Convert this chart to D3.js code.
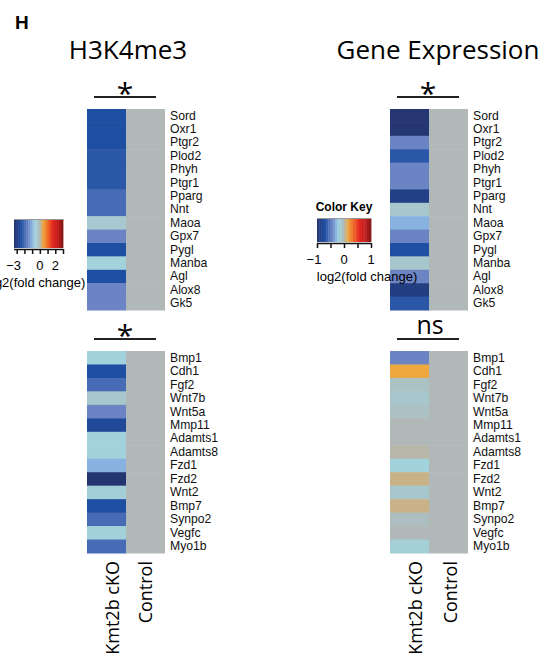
<!DOCTYPE html>
<html><head><meta charset="utf-8">
<script src="https://cdn.jsdelivr.net/npm/d3@7"></script>
<style>body{margin:0;background:#fff;overflow:hidden}</style></head>
<body>
<script>
// ---------- data ----------
const columns = ["Kmt2b cKO", "Control"];
const genesTop = ["Sord","Oxr1","Ptgr2","Plod2","Phyh","Ptgr1","Pparg","Nnt","Maoa","Gpx7","Pygl","Manba","Agl","Alox8","Gk5"];
const genesBottom = ["Bmp1","Cdh1","Fgf2","Wnt7b","Wnt5a","Mmp11","Adamts1","Adamts8","Fzd1","Fzd2","Wnt2","Bmp7","Synpo2","Vegfc","Myo1b"];
// log2 fold change, Kmt2b cKO vs control
const h3Top    = [-2.41,-2.41,-2.41,-2.28,-2.28,-2.28,-1.94,-1.94,-0.40,-1.50,-2.41,-0.60,-2.41,-1.50,-1.50];
const h3Bottom = [-0.60,-2.41,-1.94,-0.33,-1.50,-2.60,-0.60,-0.60,-1.00,-3.30,-0.50,-2.41,-1.94,-0.55,-1.94];
const exprTop    = [-0.98,-0.98,-0.45,-0.68,-0.45,-0.45,-0.88,-0.10,-0.30,-0.45,-0.72,-0.10,-0.45,-0.90,-0.68];
const exprBottom = [-0.45,0.15,-0.06,-0.10,-0.06,0.00,0.00,0.02,-0.18,0.06,-0.10,0.06,-0.04,0.00,-0.15];
const controlValue = 0;
// colour key (normalised stops -1..1)
const keyStops  = [-1,-0.72,-0.45,-0.3,-0.18,0,0.15,0.35,0.55,0.8,1];
const keyColors = ["#25346f","#1f4fa2","#6b84c4","#88b3e0","#a2d3dd","#b0b8b8","#efa73f","#f06a28","#e42a20","#c01e1e","#7f1616"];
const h3Range = [-3.35, 3];
const exprRange = [-1, 1];
const h3KeyTicks = [-3,-2,-1,0,1,2,3];
const h3KeyLabels = ["−3","0","2"];
const h3KeyLabelVals = [-3,0,2];
const exprKeyTicks = [-1,-0.5,0,0.5,1];
const exprKeyLabels = ["−1","0","1"];
const exprKeyLabelVals = [-1,0,1];
const sigTop = ["*","*"], sigBottom = ["*","ns"];

// ---------- drawing ----------
const W = 551, H = 657;
const svg = d3.select("body").append("svg").attr("width", W).attr("height", H);
const sans = "Liberation Sans, Arial, sans-serif";
const myriad = "Open Sans, sans-serif";

function colorScale(range) {
  return d3.scaleLinear()
    .domain(keyStops.map(v => v < 0 ? v * Math.abs(range[0]) : v * range[1]))
    .range(keyColors).interpolate(d3.interpolateRgb).clamp(true);
}
const colH3 = colorScale(h3Range);
const colEx = colorScale(exprRange);

svg.append("text").attr("x", 15).attr("y", 29).text("H")
  .attr("font-family", sans).attr("font-weight", "bold").attr("font-size", 19);

function panel(x0, yRange, genes, values, col, sig) {
  const x = d3.scaleBand().domain(columns).range([x0, x0 + 78]);
  const y = d3.scaleBand().domain(genes).range(yRange);
  const g = svg.append("g");
  genes.forEach((gene, i) => {
    g.append("rect").attr("x", x(columns[0])).attr("y", y(gene))
      .attr("width", x.bandwidth() + 0.5).attr("height", y.bandwidth() + 0.5)
      .attr("fill", col(values[i]));
    g.append("rect").attr("x", x(columns[1])).attr("y", y(gene))
      .attr("width", x.bandwidth()).attr("height", y.bandwidth() + 0.5)
      .attr("fill", col(controlValue));
  });
  const ax = d3.axisRight(y).tickSize(0).tickPadding(0);
  const ag = g.append("g").attr("transform", `translate(${x0 + 83},0)`).call(ax);
  ag.select(".domain").remove();
  ag.selectAll("text").attr("font-family", sans).attr("font-size", 12.2).attr("fill", "#111");
  // significance
  const yb = yRange[0] - 12;
  g.append("line").attr("x1", x0 + 7).attr("x2", x0 + 69).attr("y1", yb).attr("y2", yb)
    .attr("stroke", "#222").attr("stroke-width", 2);
  if (sig === "*") {
    g.append("text").attr("x", x0 + 38).attr("y", yb + 7).attr("text-anchor", "middle")
      .attr("font-family", myriad).attr("font-size", 30).text("*");
  } else {
    g.append("text").attr("x", x0 + 40).attr("y", yb - 5).attr("text-anchor", "middle")
      .attr("font-family", myriad).attr("font-size", 25).text(sig);
  }
  return x;
}

const topY = [109, 310], botY = [351, 553];
panel(87, topY, genesTop, h3Top, colH3, sigTop[0]);
panel(87, botY, genesBottom, h3Bottom, colH3, sigBottom[0]);
panel(390, topY, genesTop, exprTop, colEx, sigTop[1]);
panel(390, botY, genesBottom, exprBottom, colEx, sigBottom[1]);

// titles
svg.append("text").attr("x", 128).attr("y", 59).attr("text-anchor", "middle")
  .attr("font-family", myriad).attr("font-size", 26).text("H3K4me3");
svg.append("text").attr("x", 438).attr("y", 59).attr("text-anchor", "middle")
  .attr("font-family", myriad).attr("font-size", 26).text("Gene Expression");

// column labels
function colLabels(offs) {
  columns.forEach((c, i) => {
    svg.append("text").attr("transform", `translate(${offs[i]},561) rotate(-90)`)
      .attr("text-anchor", "end").attr("font-family", myriad).attr("font-size", 18).text(c);
  });
}
colLabels([119, 152]);
colLabels([422, 457]);

// colour keys
function key(x0, x1, y0, y1, range, col, ticks, labs, labVals, labelX, title) {
  const s = d3.scaleLinear().domain(range).range([x0, x1]);
  const n = 24;
  const step = (range[1] - range[0]) / n;
  const bands = d3.range(n).map(i => range[0] + i * step);
  const g = svg.append("g");
  g.selectAll("rect.b").data(bands).join("rect")
    .attr("x", d => s(d)).attr("y", y0).attr("width", d => s(d + step) - s(d) + 0.4)
    .attr("height", y1 - y0).attr("fill", d => col(d + step / 2));
  g.append("line").attr("x1", x0).attr("x2", x1).attr("y1", y0 + 0.5).attr("y2", y0 + 0.5)
    .attr("stroke", "#999").attr("stroke-width", 1.2);
  const ax = d3.axisBottom(s).tickValues(ticks).tickSize(5).tickFormat("");
  const ag = g.append("g").attr("transform", `translate(0,${y1 + 1})`).call(ax);
  ag.select(".domain").attr("stroke", "#111").attr("stroke-width", 1.5).attr("d", `M${x0},0.5H${x1}`);
  ag.selectAll(".tick line").attr("stroke", "#111").attr("stroke-width", 1.5);
  labVals.forEach((v, i) => {
    g.append("text").attr("x", s(v) + (v < 0 ? -3 : 0)).attr("y", y1 + 22).attr("text-anchor", "middle")
      .attr("font-family", sans).attr("font-size", 13).text(labs[i]);
  });
  g.append("text").attr("x", labelX).attr("y", y1 + 39).attr("text-anchor", "middle")
    .attr("font-family", sans).attr("font-size", 13).text("log2(fold change)");
  if (title) {
    g.append("text").attr("x", (x0 + x1) / 2).attr("y", y0 - 7).attr("text-anchor", "middle")
      .attr("font-family", sans).attr("font-weight", "bold").attr("font-size", 12).text(title);
  }
}
key(14, 63, 219, 248, h3Range, colH3, h3KeyTicks, h3KeyLabels, h3KeyLabelVals, 35, null);
key(317, 371, 218, 242, exprRange, colEx, exprKeyTicks, exprKeyLabels, exprKeyLabelVals, 367, "Color Key");
</script>
</body></html>
